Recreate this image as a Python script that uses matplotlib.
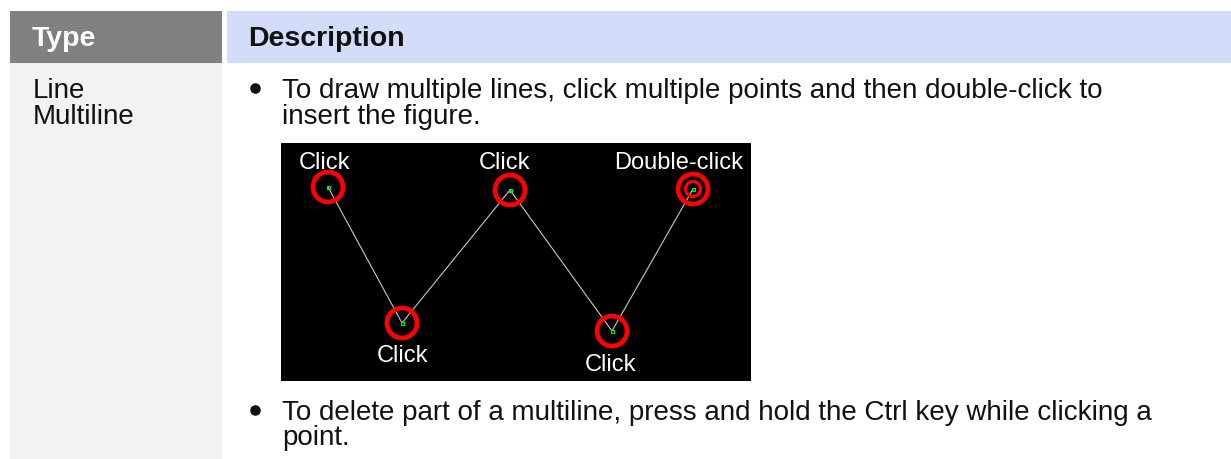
import matplotlib
matplotlib.use("Agg")
import matplotlib.pyplot as plt
from matplotlib.patches import Rectangle, Circle

plt.rcParams['font.family'] = ['Liberation Sans', 'DejaVu Sans']

# ---- data ----
header_labels = ["Type", "Description"]
type_lines = ["Line", "Multiline"]
bullet1_lines = ["To draw multiple lines, click multiple points and then double-click to",
                 "insert the figure."]
bullet2_lines = ["To delete part of a multiline, press and hold the Ctrl key while clicking a",
                 "point."]
point_x = [328, 402, 510, 612, 693]
point_y = [188, 324, 191, 332, 190]
point_labels = ["Click", "Click", "Click", "Click", "Double-click"]
label_x = [324, 402, 505, 610, 679]
label_y = [169, 362, 169, 371, 169]

W, H = 1231, 460
fig = plt.figure(figsize=(W / 100, H / 100), dpi=100)
ax = fig.add_axes([0, 0, 1, 1])
ax.set_xlim(0, W)
ax.set_ylim(H, 0)
ax.axis('off')

# table cells
ax.add_patch(Rectangle((10, 12), 212, 51.5, color='#808080', lw=0))
ax.add_patch(Rectangle((227, 12), W - 227, 51.5, color='#D3DCF8', lw=0))
ax.add_patch(Rectangle((10, 63.5), 212, H - 63.5, color='#F2F2F2', lw=0))

HFS = 20.5
FS = 20
ax.text(32, 46.5, header_labels[0], color='white', fontsize=HFS, fontweight='bold', va='baseline')
ax.text(248, 46.5, header_labels[1], color='#111111', fontsize=HFS, fontweight='bold', va='baseline')

LS = 25.5
for i, t in enumerate(type_lines):
    ax.text(33, 98 + i * LS, t, fontsize=FS, va='baseline', color='#111111')

for i, t in enumerate(bullet1_lines):
    ax.text(282, 98 + i * LS, t, fontsize=FS, va='baseline', color='#111111')
ax.plot([255], [89], 'o', ms=6.6, color='#111111')

for i, t in enumerate(bullet2_lines):
    ax.text(282, 420 + i * LS, t, fontsize=FS, va='baseline', color='#111111')
ax.plot([255], [411], 'o', ms=6.6, color='#111111')

# black screenshot area
ax.add_patch(Rectangle((281, 144), 470, 238, color='black', lw=0, zorder=2))

ax.plot(point_x, point_y, color='#C8C8C8', lw=0.8, zorder=3)
for x, y in zip(point_x, point_y):
    ax.add_patch(Circle((x, y), 15, fill=False, ec='#FF0000', lw=3.4, zorder=4))
    ax.add_patch(Rectangle((x - 1.5, y - 1.5), 3, 3, fill=False, ec='#00FF00', lw=0.8, zorder=5))
ax.add_patch(Circle((point_x[-1], point_y[-1]), 7.5, fill=False, ec='#FF0000', lw=2.4, zorder=4))

for x, y, t in zip(label_x, label_y, point_labels):
    ax.text(x, y, t, color='white', fontsize=17, ha='center', va='baseline', zorder=6)

fig.savefig('out.png', dpi=100)
